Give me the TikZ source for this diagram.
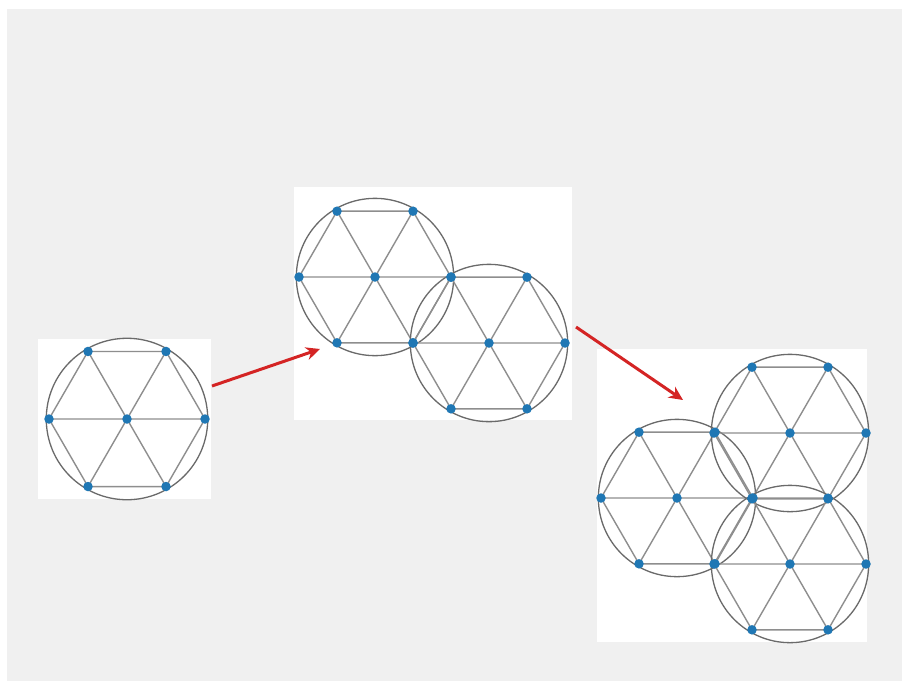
\documentclass[tikz,border=0pt]{standalone}
\usetikzlibrary{calc,arrows.meta}
\definecolor{bggray}{HTML}{F0F0F0}
\definecolor{dotblue}{HTML}{1F77B4}
\definecolor{edgegray}{HTML}{8E8E8E}
\definecolor{ringgray}{HTML}{6A6A6A}
\definecolor{arrowred}{HTML}{D42424}
\tikzset{
  panel/.style={fill=white,draw=none},
  edge/.style={draw=edgegray,line width=1.4pt},
  ring/.style={draw=ringgray,line width=1.3pt},
  vdot/.style={circle,fill=dotblue,inner sep=0pt,minimum size=9.5pt},
  redarrow/.style={draw=arrowred,line width=3pt,-{Stealth[length=14pt,width=13pt]}},
}
\newcommand{\hexcell}[4]{%
  \coordinate (#1c) at (#2,#3);
  \foreach \k in {0,...,5}{\coordinate (#1v\k) at ($(#1c)+(\k*60:#4)$);}
  \draw[ring] (#1c) circle [radius=#4*1.035];
  \draw[edge] (#1v0)--(#1v1)--(#1v2)--(#1v3)--(#1v4)--(#1v5)--cycle;
  \draw[edge] (#1v0)--(#1v3) (#1v1)--(#1v4) (#1v2)--(#1v5);
}
\newcommand{\hexdots}[1]{%
  \node[vdot] (#1dc) at (#1c) {};
  \foreach \k in {0,...,5}{\node[vdot] (#1d\k) at (#1v\k) {};}
}
\begin{document}
\begin{tikzpicture}[x=1pt,y=-1pt]
\useasboundingbox (0,0) rectangle (902,681);
\fill[bggray] (7,9) rectangle (902,681);
% panels
\fill[panel] (38,339) rectangle (211,499);
\fill[panel] (294,187) rectangle (572,420);
\fill[panel] (597,349) rectangle (867,642);
% panel 1
\hexcell{P}{127}{419}{78}
\hexdots{P}
% panel 2
\hexcell{A}{375}{277}{76}
\hexcell{B}{489}{343}{76}
\hexdots{A}
\hexdots{B}
% panel 3
\hexcell{C}{677}{498}{76}
\hexcell{D}{790}{433}{76}
\hexcell{E}{790}{564}{76}
\hexdots{C}
\hexdots{D}
\hexdots{E}
% arrows
\coordinate (s1) at (212,386);
\coordinate (e1) at (320,349);
\coordinate (s2) at (576,327);
\coordinate (e2) at (683,400);
\draw[redarrow] (s1) -- (e1);
\draw[redarrow] (s2) -- (e2);
\end{tikzpicture}
\end{document}
